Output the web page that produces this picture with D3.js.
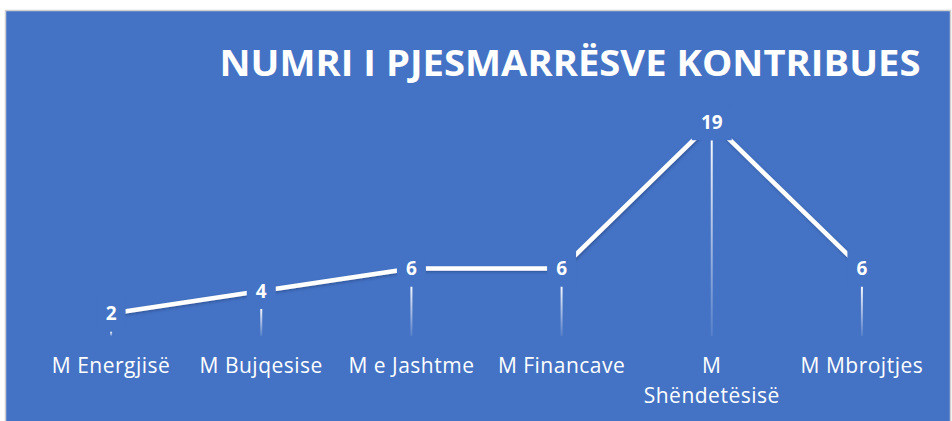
<!DOCTYPE html>
<html>
<head>
<meta charset="utf-8">
<script src="https://cdn.jsdelivr.net/npm/d3@7"></script>
<style>
  body { margin: 0; background: #fff; }
  text { font-family: "Open Sans", sans-serif; fill: #fff; }
</style>
</head>
<body>
<div id="chart"></div>
<script>
const categories = ['M Energjisë', 'M Bujqesise', 'M e Jashtme', 'M Financave', 'M Shëndetësisë', 'M Mbrojtjes']
const values = [2, 4, 6, 6, 19, 6]
const title = 'NUMRI I PJESMARRËSVE KONTRIBUES'

const width = 952
const height = 421
const bg = '#4472C4'

const data = categories.map((c, i) => ({ name: c, value: values[i] }))

const svg = d3.select('#chart')
    .append('svg')
    .attr('width', width)
    .attr('height', height)

const defs = svg.append('defs')

const grad = defs.append('linearGradient')
    .attr('id', 'drop')
    .attr('x1', 0).attr('y1', 0)
    .attr('x2', 0).attr('y2', 1)
grad.append('stop').attr('offset', '0%').attr('stop-color', '#fff').attr('stop-opacity', 0.95)
grad.append('stop').attr('offset', '100%').attr('stop-color', '#fff').attr('stop-opacity', 0.1)

defs.append('filter')
    .attr('id', 'shadow')
    .attr('x', '-10%').attr('y', '-10%')
    .attr('width', '120%').attr('height', '130%')
    .append('feDropShadow')
    .attr('dx', 1).attr('dy', 1.5)
    .attr('stdDeviation', 1)
    .attr('flood-color', '#1f3d75')
    .attr('flood-opacity', 0.5)

// chart area
svg.append('rect')
    .attr('x', 5.5).attr('y', 10.5)
    .attr('width', width - 7).attr('height', height)
    .attr('fill', bg)
    .attr('stroke', '#d0d0d0')
    .attr('stroke-width', 1.5)

const x = d3.scaleBand()
    .domain(categories)
    .range([36, 937])

const cx = d => x(d) + x.bandwidth() / 2

const y = d3.scaleLinear()
    .domain([0, 20])
    .range([336, 111])

// drop lines
svg.append('g')
    .selectAll('rect')
    .data(data)
    .join('rect')
    .attr('x', d => cx(d.name) - 1)
    .attr('y', d => y(d.value) + 18)
    .attr('width', 2)
    .attr('height', d => Math.max(2, y(0) - y(d.value) - 18))
    .attr('fill', 'url(#drop)')

// line
const line = d3.line()
    .x(d => cx(d.name))
    .y(d => y(d.value))

svg.append('path')
    .datum(data)
    .attr('fill', 'none')
    .attr('stroke', '#fff')
    .attr('stroke-width', 4.5)
    .attr('filter', 'url(#shadow)')
    .attr('d', line)

// data labels, with a box that hides the line behind them
const lab = svg.append('g')
    .selectAll('g')
    .data(data)
    .join('g')
    .attr('transform', d => `translate(${cx(d.name)},${y(d.value)})`)

lab.append('text')
    .attr('text-anchor', 'middle')
    .attr('dy', '0.36em')
    .attr('font-size', 19)
    .attr('font-weight', 'bold')
    .text(d => d.value)

lab.insert('rect', 'text')
    .each(function () {
        const w = this.parentNode.querySelector('text').getBBox().width
        d3.select(this)
            .attr('x', -w / 2 - 9)
            .attr('y', -18)
            .attr('width', w + 18)
            .attr('height', 36)
    })
    .attr('fill', bg)

// category axis
const xAxis = g => g
    .attr('transform', `translate(0,${y(0)})`)
    .call(d3.axisBottom(x).tickSize(0).tickPadding(0))
    .call(g => g.select('.domain').remove())
    .call(g => g.selectAll('text')
        .attr('fill', '#fff')
        .attr('font-size', 21)
        .attr('font-family', '"Open Sans", sans-serif')
        .attr('letter-spacing', '0.5px')
        .attr('dy', null)
        .attr('y', 37)
        .call(wrap, x.bandwidth() - 4))

function wrap(texts, maxW) {
    texts.each(function () {
        const t = d3.select(this)
        if (this.getComputedTextLength() <= maxW) return
        const words = t.text().split(' ')
        t.text(null)
        words.forEach((w, i) => {
            t.append('tspan')
                .attr('x', 0)
                .attr('dy', i === 0 ? 0 : 30)
                .text(w)
        })
    })
}

svg.append('g').call(xAxis)

// title
svg.append('text')
    .attr('x', 570)
    .attr('y', 76)
    .attr('text-anchor', 'middle')
    .attr('font-size', 35)
    .attr('font-weight', 'bold')
    .attr('textLength', 701)
    .attr('lengthAdjust', 'spacingAndGlyphs')
    .text(title)
</script>
</body>
</html>
